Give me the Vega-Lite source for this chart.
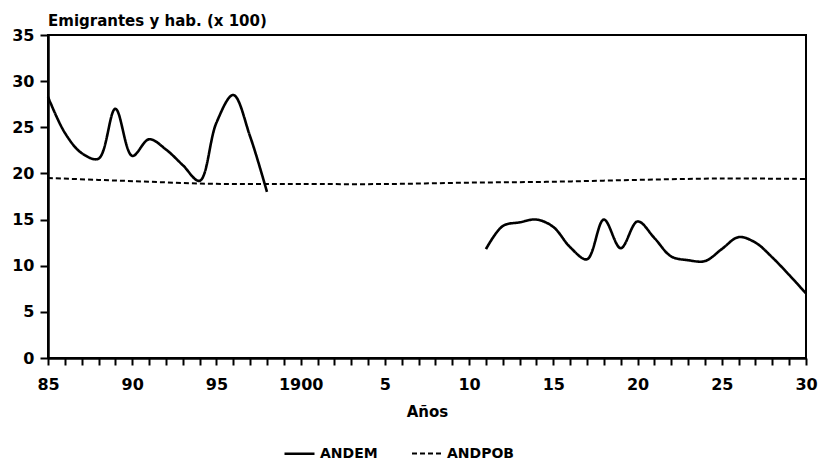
{
  "$schema": "https://vega.github.io/schema/vega-lite/v6.json",
  "width": 758,
  "height": 323,
  "autosize": {"type": "none"},
  "padding": {"left": 48, "top": 35, "right": 12, "bottom": 106},
  "background": "white",
  "title": {
    "text": "Emigrantes y hab. (x 100)",
    "anchor": "start",
    "frame": "group",
    "font": "DejaVu Sans",
    "fontWeight": "bold",
    "fontSize": 15,
    "color": "black",
    "offset": -2
  },
  "config": {
    "view": {"stroke": "black", "strokeWidth": 2},
    "font": "DejaVu Sans"
  },
  "data": {
    "values": [
      {"series": "ANDEM", "seg": "a1", "year": 1885, "value": 28.3},
      {"series": "ANDEM", "seg": "a1", "year": 1886, "value": 24.4},
      {"series": "ANDEM", "seg": "a1", "year": 1887, "value": 22.2},
      {"series": "ANDEM", "seg": "a1", "year": 1888, "value": 21.6},
      {"series": "ANDEM", "seg": "a1", "year": 1889, "value": 27.0},
      {"series": "ANDEM", "seg": "a1", "year": 1890, "value": 21.9},
      {"series": "ANDEM", "seg": "a1", "year": 1891, "value": 23.7},
      {"series": "ANDEM", "seg": "a1", "year": 1892, "value": 22.6},
      {"series": "ANDEM", "seg": "a1", "year": 1893, "value": 20.9},
      {"series": "ANDEM", "seg": "a1", "year": 1894, "value": 19.2},
      {"series": "ANDEM", "seg": "a1", "year": 1895, "value": 25.5},
      {"series": "ANDEM", "seg": "a1", "year": 1896, "value": 28.5},
      {"series": "ANDEM", "seg": "a1", "year": 1897, "value": 24.0},
      {"series": "ANDEM", "seg": "a1", "year": 1898, "value": 18.0},
      {"series": "ANDEM", "seg": "a2", "year": 1911, "value": 11.8},
      {"series": "ANDEM", "seg": "a2", "year": 1912, "value": 14.3},
      {"series": "ANDEM", "seg": "a2", "year": 1913, "value": 14.7},
      {"series": "ANDEM", "seg": "a2", "year": 1914, "value": 15.0},
      {"series": "ANDEM", "seg": "a2", "year": 1915, "value": 14.2},
      {"series": "ANDEM", "seg": "a2", "year": 1916, "value": 12.0},
      {"series": "ANDEM", "seg": "a2", "year": 1917, "value": 10.7},
      {"series": "ANDEM", "seg": "a2", "year": 1918, "value": 15.0},
      {"series": "ANDEM", "seg": "a2", "year": 1919, "value": 11.9},
      {"series": "ANDEM", "seg": "a2", "year": 1920, "value": 14.8},
      {"series": "ANDEM", "seg": "a2", "year": 1921, "value": 13.0},
      {"series": "ANDEM", "seg": "a2", "year": 1922, "value": 11.0},
      {"series": "ANDEM", "seg": "a2", "year": 1923, "value": 10.6},
      {"series": "ANDEM", "seg": "a2", "year": 1924, "value": 10.5},
      {"series": "ANDEM", "seg": "a2", "year": 1925, "value": 11.8},
      {"series": "ANDEM", "seg": "a2", "year": 1926, "value": 13.1},
      {"series": "ANDEM", "seg": "a2", "year": 1927, "value": 12.5},
      {"series": "ANDEM", "seg": "a2", "year": 1928, "value": 10.9},
      {"series": "ANDEM", "seg": "a2", "year": 1929, "value": 9.0},
      {"series": "ANDEM", "seg": "a2", "year": 1930, "value": 7.0},
      {"series": "ANDPOB", "seg": "p", "year": 1885, "value": 19.5},
      {"series": "ANDPOB", "seg": "p", "year": 1888, "value": 19.3},
      {"series": "ANDPOB", "seg": "p", "year": 1891, "value": 19.1},
      {"series": "ANDPOB", "seg": "p", "year": 1894, "value": 18.9},
      {"series": "ANDPOB", "seg": "p", "year": 1897, "value": 18.85},
      {"series": "ANDPOB", "seg": "p", "year": 1900, "value": 18.85},
      {"series": "ANDPOB", "seg": "p", "year": 1905, "value": 18.85},
      {"series": "ANDPOB", "seg": "p", "year": 1910, "value": 19.0},
      {"series": "ANDPOB", "seg": "p", "year": 1915, "value": 19.1},
      {"series": "ANDPOB", "seg": "p", "year": 1920, "value": 19.3},
      {"series": "ANDPOB", "seg": "p", "year": 1925, "value": 19.45},
      {"series": "ANDPOB", "seg": "p", "year": 1930, "value": 19.4}
    ]
  },
  "mark": {"type": "line", "interpolate": "catmull-rom", "color": "black"},
  "encoding": {
    "x": {
      "field": "year",
      "type": "quantitative",
      "scale": {"domain": [1885, 1930], "nice": false, "zero": false},
      "axis": {
        "title": "Años",
        "values": [1885,1886,1887,1888,1889,1890,1891,1892,1893,1894,1895,1896,1897,1898,1899,1900,1901,1902,1903,1904,1905,1906,1907,1908,1909,1910,1911,1912,1913,1914,1915,1916,1917,1918,1919,1920,1921,1922,1923,1924,1925,1926,1927,1928,1929,1930],
        "labelExpr": "datum.value == 1900 ? '1900' : (datum.value % 5 == 0 ? format(datum.value % 100, 'd') : '')",
        "labelOverlap": false,
        "labelFlush": false,
        "labelBound": false,
        "grid": false,
        "domainColor": "black",
        "domainWidth": 2.5,
        "tickColor": "black",
        "tickWidth": 2,
        "tickSize": 7,
        "labelFont": "DejaVu Sans",
        "labelFontWeight": "bold",
        "labelFontSize": 16,
        "labelColor": "black",
        "labelPadding": 11,
        "titleFont": "DejaVu Sans",
        "titleFontWeight": "bold",
        "titleFontSize": 15,
        "titleColor": "black",
        "titlePadding": 12
      }
    },
    "y": {
      "field": "value",
      "type": "quantitative",
      "scale": {"domain": [0, 35], "nice": false},
      "axis": {
        "title": null,
        "values": [0, 5, 10, 15, 20, 25, 30, 35],
        "grid": false,
        "domainColor": "black",
        "domainWidth": 2.5,
        "tickColor": "black",
        "tickWidth": 2,
        "tickSize": 8,
        "labelFont": "DejaVu Sans",
        "labelFontWeight": "bold",
        "labelFontSize": 16,
        "labelColor": "black",
        "labelPadding": 6,
        "labelFlush": false,
        "labelBound": false
      }
    },
    "detail": {"field": "seg"},
    "strokeDash": {
      "field": "series",
      "type": "nominal",
      "scale": {"domain": ["ANDEM", "ANDPOB"], "range": [[1, 0], [5, 3]]},
      "legend": {
        "title": null,
        "orient": "none",
        "legendX": 235,
        "legendY": 402,
        "direction": "horizontal",
        "symbolType": "stroke",
        "symbolSize": 900,
        "symbolStrokeColor": "black",
        "symbolStrokeWidth": 2.5,
        "labelFont": "DejaVu Sans",
        "labelFontWeight": "bold",
        "labelFontSize": 14,
        "labelColor": "black",
        "columnPadding": 30
      }
    },
    "strokeWidth": {
      "field": "series",
      "type": "nominal",
      "scale": {"domain": ["ANDEM", "ANDPOB"], "range": [2.6, 2]},
      "legend": null
    }
  }
}
